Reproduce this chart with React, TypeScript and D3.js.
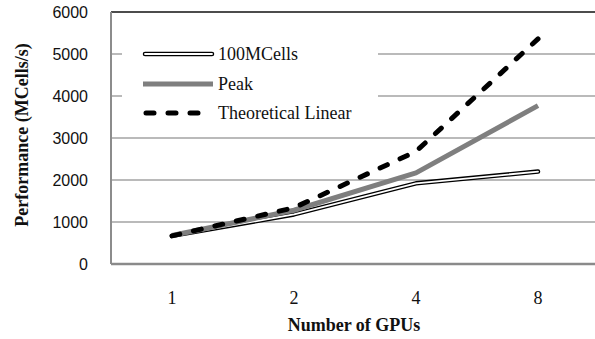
import * as d3 from "d3";

const gpus = ["1", "2", "4", "8"];
const cells100M = [670, 1180, 1920, 2200];
const peak = [680, 1280, 2170, 3770];
const theoretical = [670, 1340, 2680, 5360];
const yTicks = [0, 1000, 2000, 3000, 4000, 5000, 6000];

const W = 595;
const H = 339;
const left = 111;
const right = 599;
const top = 12;
const bottom = 264;

function App() {
  const x = d3.scalePoint().domain(gpus).range([left, right]).padding(0.5);
  const y = d3.scaleLinear().domain([0, 6000]).range([bottom, top]);

  const line = d3
    .line<number>()
    .x((_, i) => x(gpus[i]) as number)
    .y((d) => y(d));

  const serif = "'Liberation Serif', 'Times New Roman', serif";
  const sans = "'Liberation Sans', Arial, sans-serif";

  return (
    <svg
      width={W}
      height={H}
      style={{ position: "absolute", left: 0, top: 0, background: "#fff" }}
    >
      {/* gridlines */}
      {yTicks.slice(1, -1).map((t) => (
        <line
          key={t}
          x1={left}
          x2={W}
          y1={y(t)}
          y2={y(t)}
          stroke="#a3a3a3"
          strokeWidth={1.5}
        />
      ))}
      <line x1={left} x2={W} y1={y(6000)} y2={y(6000)} stroke="#111" strokeWidth={1.6} />
      <line x1={left} x2={left} y1={top} y2={bottom} stroke="#8c8c8c" strokeWidth={2} />
      <line x1={left} x2={W} y1={bottom} y2={bottom} stroke="#8a8a8a" strokeWidth={2.6} />

      {/* y tick labels */}
      {yTicks.map((t) => (
        <text
          key={t}
          x={88}
          y={y(t) + 5.5}
          textAnchor="end"
          fontFamily={sans}
          fontSize={16}
          fill="#111"
        >
          {t}
        </text>
      ))}

      {/* x tick labels */}
      {gpus.map((g) => (
        <text
          key={g}
          x={x(g)}
          y={304}
          textAnchor="middle"
          fontFamily={serif}
          fontSize={18}
          fill="#111"
        >
          {g}
        </text>
      ))}

      {/* series */}
      <path d={line(cells100M) || ""} fill="none" stroke="#000" strokeWidth={4.5} strokeLinecap="round" strokeLinejoin="round" />
      <path d={line(cells100M) || ""} fill="none" stroke="#fff" strokeWidth={1.8} strokeLinecap="round" strokeLinejoin="round" />
      <path d={line(peak) || ""} fill="none" stroke="#7f7f7f" strokeWidth={5} strokeLinejoin="round" />
      <path
        d={line(theoretical) || ""}
        fill="none"
        stroke="#000"
        strokeWidth={5}
        strokeLinecap="round"
        strokeLinejoin="round"
        strokeDasharray="8 14"
      />

      {/* legend */}
      <rect x={122} y={30} width={256} height={96} fill="#fff" />
      <g fontFamily={serif} fontSize={18} fill="#111">
        <line x1={145} x2={212} y1={54} y2={54} stroke="#000" strokeWidth={4.5} strokeLinecap="round" />
        <line x1={145} x2={212} y1={54} y2={54} stroke="#fff" strokeWidth={1.8} strokeLinecap="round" />
        <text x={218} y={60}>100MCells</text>
        <line x1={143} x2={213} y1={84} y2={84} stroke="#7f7f7f" strokeWidth={5} />
        <text x={218} y={90}>Peak</text>
        <line x1={146} x2={212} y1={113} y2={113} stroke="#000" strokeWidth={5} strokeLinecap="round" strokeDasharray="8 14" />
        <text x={218} y={119}>Theoretical Linear</text>
      </g>

      {/* axis titles */}
      <text
        x={354}
        y={331}
        textAnchor="middle"
        fontFamily={serif}
        fontSize={18}
        fontWeight="bold"
        fill="#111"
      >
        Number of GPUs
      </text>
      <text
        transform="translate(28,135) rotate(-90)"
        textAnchor="middle"
        fontFamily={serif}
        fontSize={18}
        fontWeight="bold"
        fill="#111"
      >
        Performance (MCells/s)
      </text>
    </svg>
  );
}

export default App;
